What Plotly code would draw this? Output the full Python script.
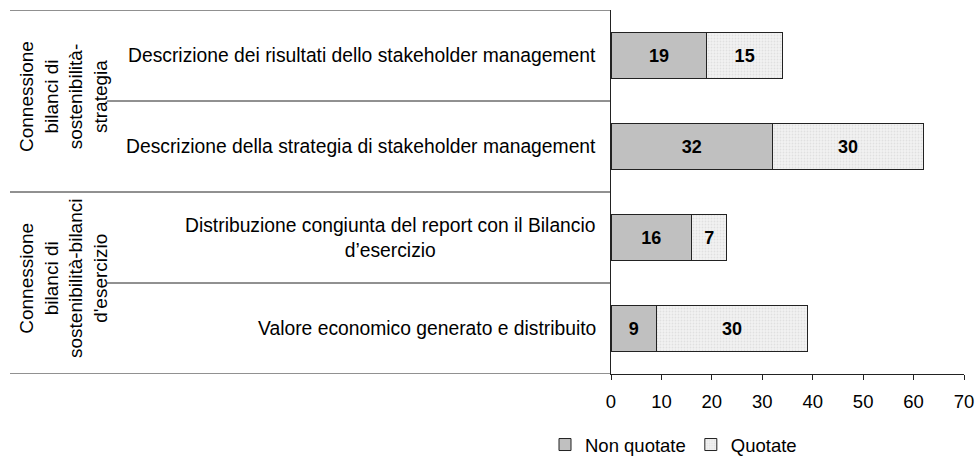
import plotly.graph_objects as go

# ---- data ----
categories = [
    "Descrizione dei risultati dello stakeholder management",
    "Descrizione della strategia di stakeholder management",
    "Distribuzione congiunta del report con il Bilancio<br>d’esercizio",
    "Valore economico generato e distribuito",
]
groups = [
    "Connessione<br>bilanci di<br>sostenibilità-<br>strategia",
    "Connessione<br>bilanci di<br>sostenibilità-bilanci<br>d'esercizio",
]
group_members = [[0, 1], [2, 3]]
non_quotate = [19, 32, 16, 9]
quotate = [15, 30, 7, 30]
x_ticks = [0, 10, 20, 30, 40, 50, 60, 70]

FONT = "Liberation Sans, Arial, sans-serif"
FS = 19.3

W, H = 976, 457
PLOT_L, PLOT_T = 611, 10
PLOT_W, PLOT_H = 353, 364

fig = go.Figure()
fig.add_trace(go.Bar(
    name="Non quotate", y=categories, x=non_quotate, orientation="h",
    marker=dict(color="#c0c0c0", line=dict(color="#222222", width=1)),
    text=non_quotate, textposition="inside", insidetextanchor="middle",
    textfont=dict(family=FONT, size=18, color="black", weight="bold"),
))
fig.add_trace(go.Bar(
    name="Quotate", y=categories, x=quotate, orientation="h",
    marker=dict(color="#efefef", line=dict(color="#222222", width=1),
                pattern=dict(shape=".", bgcolor="#f2f2f2", fgcolor="#cdcdcd",
                             size=3, solidity=0.3)),
    text=quotate, textposition="inside", insidetextanchor="middle",
    textfont=dict(family=FONT, size=18, color="black", weight="bold"),
))

annotations = []
for c in categories:
    annotations.append(dict(
        text=c, xref="paper", x=0, xanchor="right", xshift=-13,
        yref="y", y=c, yanchor="middle", align="center", showarrow=False,
        font=dict(family=FONT, size=FS, color="black"),
    ))
for g, mem in zip(groups, group_members):
    annotations.append(dict(
        text=g, xref="paper", x=(63 - PLOT_L) / PLOT_W, xanchor="center",
        yref="y", y=sum(mem) / len(mem), yanchor="middle", textangle=-90,
        yshift=4, align="center", showarrow=False,
        font=dict(family=FONT, size=19, color="black"),
    ))

shapes = []
long_x0 = (10 - PLOT_L) / PLOT_W
short_x0 = (107 - PLOT_L) / PLOT_W
# group boundaries
for b in [-0.5, 1.5, 3.5]:
    shapes.append(dict(type="line", xref="paper", yref="y", x0=long_x0, x1=0,
                       y0=b, y1=b, line=dict(color="#222222", width=1)))
# within-group boundaries
for mem in group_members:
    for k in range(len(mem) - 1):
        b = mem[k] + 0.5
        shapes.append(dict(type="line", xref="paper", yref="y", x0=short_x0, x1=0,
                           y0=b, y1=b, line=dict(color="#222222", width=1)))

fig.update_layout(
    barmode="stack", bargap=0.5,
    width=W, height=H,
    margin=dict(l=PLOT_L, r=W - PLOT_L - PLOT_W, t=PLOT_T,
                b=H - PLOT_T - PLOT_H, autoexpand=False),
    paper_bgcolor="white", plot_bgcolor="white",
    font=dict(family=FONT, size=FS, color="black"),
    showlegend=True,
    legend=dict(orientation="h", x=(545 - PLOT_L) / PLOT_W, xanchor="left",
                y=1 - (445 - PLOT_T) / PLOT_H, yanchor="middle",
                font=dict(family=FONT, size=18.5, color="black"),
                itemwidth=30, traceorder="normal"),
    annotations=annotations, shapes=shapes,
)
fig.update_xaxes(range=[0, 70], tickvals=x_ticks, ticks="outside", ticklen=5,
                 tickcolor="#222222", showline=True, linecolor="#222222",
                 showgrid=False, zeroline=False, ticklabelstandoff=6,
                 tickfont=dict(family=FONT, size=18.5, color="black"))
fig.update_yaxes(range=[3.5, -0.5], showticklabels=False, showline=True,
                 linecolor="#222222", showgrid=False, zeroline=False, ticks="")

fig.write_html(
    "out.html",
    config={"displayModeBar": False},
    post_script="document.body.style.margin='0';document.body.style.overflow='hidden';",
)
